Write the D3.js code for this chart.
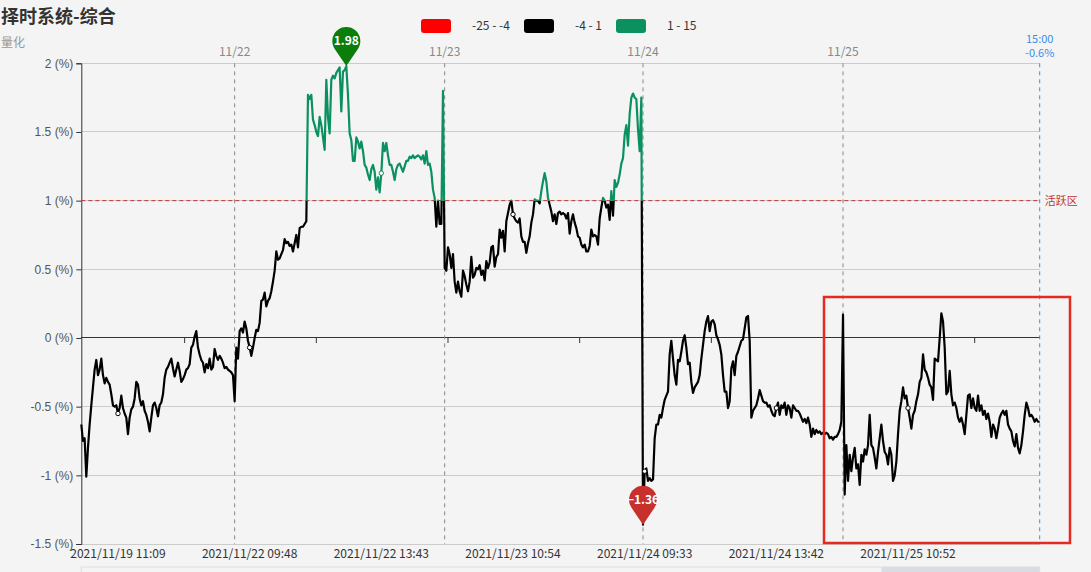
<!DOCTYPE html>
<html><head><meta charset="utf-8">
<script src="https://cdn.jsdelivr.net/npm/d3@7/dist/d3.min.js"></script>
<style>
html,body{margin:0;padding:0;background:#f4f4f4;}
svg{display:block;font-family:"Microsoft YaHei","Noto Sans CJK SC",sans-serif;}
</style></head><body>
<svg id="c" width="1091" height="572"></svg>
<script>
// ---- data (percent) ----
const day1119 = [-0.63,-0.75,-0.73,-1.01,-0.80,-0.63,-0.49,-0.36,-0.23,-0.16,-0.27,-0.23,-0.15,-0.27,-0.33,-0.29,-0.32,-0.34,-0.41,-0.49,-0.50,-0.49,-0.55,-0.51,-0.42,-0.51,-0.55,-0.58,-0.70,-0.58,-0.52,-0.50,-0.44,-0.32,-0.34,-0.44,-0.49,-0.46,-0.53,-0.56,-0.61,-0.68,-0.58,-0.49,-0.47,-0.51,-0.57,-0.49,-0.47,-0.41,-0.29,-0.23,-0.21,-0.18,-0.15,-0.22,-0.28,-0.23,-0.18,-0.24,-0.32,-0.30,-0.27,-0.23,-0.22,-0.19,-0.07,-0.05,0.01,0.05,-0.07,-0.12,-0.16,-0.18,-0.25,-0.19,-0.22,-0.15,-0.23,-0.21,-0.08,-0.13,-0.16,-0.13,-0.15,-0.18,-0.22,-0.21,-0.23,-0.24,-0.25,-0.27];
const day1122 = [-0.46,-0.07,-0.15,0.05,0.07,0.04,0.12,0.07,-0.02,-0.07,-0.13,-0.07,0.00,0.06,0.05,0.11,0.27,0.28,0.33,0.23,0.27,0.29,0.34,0.41,0.49,0.63,0.57,0.58,0.61,0.64,0.72,0.69,0.70,0.67,0.68,0.63,0.69,0.75,0.66,0.80,0.81,0.81,0.83,0.85,1.77,1.74,1.77,1.59,1.55,1.50,1.47,1.61,1.55,1.46,1.37,1.88,1.61,1.49,1.88,1.91,1.89,1.93,1.95,1.97,1.65,1.94,1.95,1.98,1.77,1.49,1.44,1.29,1.29,1.46,1.43,1.38,1.43,1.36,1.26,1.24,1.19,1.15,1.23,1.26,1.21,1.08,1.17,1.06,1.20,1.42,1.36,1.42,1.33,1.26,1.26,1.21,1.15,1.23,1.26,1.27,1.24,1.21,1.25,1.29,1.29,1.32,1.31,1.33,1.31,1.32,1.33,1.32,1.30,1.33,1.27,1.36,1.26,1.27,1.21,1.08,1.02,0.81,1.00,0.83,0.83,1.80];
const day1123 = [0.51,0.49,0.66,0.61,0.51,0.61,0.41,0.33,0.41,0.34,0.30,0.49,0.45,0.39,0.34,0.41,0.59,0.44,0.46,0.51,0.50,0.53,0.46,0.49,0.42,0.56,0.51,0.55,0.66,0.67,0.52,0.59,0.61,0.79,0.73,0.78,0.63,0.85,0.91,0.97,1.00,0.90,0.87,0.85,0.84,0.87,0.74,0.70,0.70,0.62,0.69,0.74,0.84,0.90,1.01,1.00,1.00,0.98,1.07,1.14,1.20,1.14,1.02,0.97,0.92,0.85,0.90,0.83,0.91,0.92,0.90,0.91,0.90,0.87,0.91,0.76,0.85,0.90,0.84,0.80,0.74,0.73,0.68,0.66,0.68,0.63,0.63,0.67,0.79,0.74,0.75,0.74,0.68,0.87,0.95,1.02,1.00,0.95,0.97,0.86,1.07,0.89,1.15,1.10,1.13,1.19,1.27,1.31,1.48,1.55,1.40,1.63,1.75,1.78,1.75,1.74,1.52,1.36,1.75];
const day1124 = [-1.36,-0.97,-0.95,-1.04,-1.02,-1.04,-1.03,-0.73,-0.63,-0.63,-0.56,-0.58,-0.51,-0.45,-0.42,-0.39,-0.12,-0.02,-0.15,-0.27,-0.34,-0.16,-0.17,-0.10,-0.02,0.02,-0.07,-0.19,-0.18,-0.32,-0.40,-0.36,-0.34,-0.32,-0.27,-0.15,-0.05,0.05,0.12,0.16,0.05,0.12,0.13,0.10,0.02,-0.01,-0.05,-0.12,-0.27,-0.39,-0.39,-0.51,-0.46,-0.22,-0.17,-0.27,-0.13,-0.10,-0.06,-0.02,-0.01,0.07,0.15,0.16,-0.02,-0.58,-0.53,-0.51,-0.49,-0.44,-0.38,-0.42,-0.46,-0.47,-0.47,-0.50,-0.49,-0.53,-0.56,-0.57,-0.51,-0.47,-0.56,-0.49,-0.51,-0.47,-0.56,-0.49,-0.51,-0.58,-0.49,-0.51,-0.53,-0.53,-0.55,-0.58,-0.61,-0.59,-0.62,-0.58,-0.63,-0.72,-0.66,-0.70,-0.67,-0.69,-0.68,-0.70,-0.69,-0.70,-0.69,-0.70,-0.73,-0.72,-0.74,-0.72,-0.72,-0.70,-0.67,-0.61];
const day1125 = [0.17,-1.14,-0.78,-1.04,-0.85,-0.97,-0.87,-0.80,-0.95,-0.92,-1.07,-0.85,-0.90,-0.81,-0.85,-0.78,-0.56,-0.78,-0.80,-0.87,-0.95,-0.83,-0.73,-0.63,-0.75,-0.83,-0.85,-0.92,-0.80,-0.85,-1.04,-1.00,-0.90,-0.70,-0.53,-0.46,-0.36,-0.44,-0.42,-0.51,-0.58,-0.66,-0.56,-0.53,-0.46,-0.41,-0.32,-0.29,-0.12,-0.23,-0.25,-0.29,-0.34,-0.36,-0.45,-0.15,-0.16,-0.17,0.00,0.18,0.12,-0.07,-0.41,-0.39,-0.24,-0.41,-0.49,-0.47,-0.51,-0.58,-0.61,-0.58,-0.63,-0.70,-0.56,-0.42,-0.41,-0.51,-0.44,-0.51,-0.53,-0.42,-0.53,-0.49,-0.56,-0.53,-0.59,-0.55,-0.61,-0.72,-0.63,-0.66,-0.73,-0.66,-0.58,-0.55,-0.53,-0.56,-0.53,-0.63,-0.66,-0.68,-0.75,-0.79,-0.70,-0.80,-0.84,-0.78,-0.68,-0.56,-0.47,-0.51,-0.57,-0.56,-0.58,-0.61,-0.59,-0.61,-0.61];
const dayNames = ["11/19","11/22","11/23","11/24","11/25"];
const xLabels = ["2021/11/19 11:09","2021/11/22 09:48","2021/11/22 13:43","2021/11/23 10:54","2021/11/24 09:33","2021/11/24 13:42","2021/11/25 10:52"];
const labelStart = 22, labelStep = 79, tickStart = 62;
const yTicks = [2,1.5,1,0.5,0,-0.5,-1,-1.5];
const pieces = [{min:-25,max:-4,color:"#ff0000",label:"-25 - -4"},{min:-4,max:1,color:"#000000",label:"-4 - 1"},{min:1,max:15,color:"#0b9060",label:"1 - 15"}];
const activeLine = 1, activeLabel = "活跃区";
const title = "择时系统-综合", subtitle = "量化";
const lastTime = "15:00", lastValue = "-0.6%";

const days = [day1119,day1122,day1123,day1124,day1125];
const values = days.flat();
const dayStarts = []; {let s=0; days.forEach(d=>{dayStarts.push(s); s+=d.length;});}
const N = values.length;

const svg = d3.select("#c");
const L = 81.3, R = 1039.7, T = 63.3, B = 544;
const x = d3.scaleLinear().domain([0, N-1]).range([L, R]);
const y = d3.scaleLinear().domain([-1.5, 2]).range([B, T]);

// title
svg.append("text").attr("x",1).attr("y",23).attr("font-size",18).attr("font-weight","bold").attr("fill","#333").text(title);
svg.append("text").attr("x",1).attr("y",47).attr("font-size",12).attr("fill","#999").text(subtitle);

// legend
const lg = svg.append("g");
const legX = [421, 524, 616];
pieces.forEach((p,i)=>{
  lg.append("rect").attr("x",legX[i]).attr("y",19).attr("width",30).attr("height",14).attr("rx",3).attr("fill",p.color);
  lg.append("text").attr("x",legX[i]+51).attr("y",30).attr("font-size",12).attr("fill","#333").text(p.label);
});

// grid
svg.append("g").selectAll("line").data(yTicks).join("line")
  .attr("x1",L).attr("x2",R).attr("y1",d=>y(d)).attr("y2",d=>y(d))
  .attr("stroke",d=>d===0?"#333":"#ccc").attr("stroke-width",1).attr("shape-rendering","crispEdges");

// y axis
const ya = svg.append("g").attr("transform",`translate(${L},0)`)
  .call(d3.axisLeft(y).tickValues(yTicks).tickSize(5).tickFormat(d=>d+" (%)"));
ya.select(".domain").attr("stroke","#333");
ya.selectAll(".tick line").attr("stroke","#333");
ya.selectAll("text").attr("font-size",12).attr("fill","#555").attr("font-family","inherit");

// x axis on zero
const tickIdx = d3.range(tickStart, N, labelStep);
svg.append("g").selectAll("line").data(tickIdx).join("line")
  .attr("x1",d=>x(d)).attr("x2",d=>x(d)).attr("y1",y(0)).attr("y2",y(0)+5).attr("stroke","#333");
const labIdx = xLabels.map((_,i)=>labelStart+i*labelStep);
svg.append("g").selectAll("text").data(xLabels).join("text")
  .attr("x",(d,i)=>x(labIdx[i])).attr("y",558).attr("text-anchor","middle").attr("font-size",12).attr("fill","#333").text(d=>d);

// day separators
dayStarts.slice(1).forEach((s,i)=>{
  svg.append("line").attr("x1",x(s)).attr("x2",x(s)).attr("y1",T).attr("y2",B)
    .attr("stroke","#888").attr("stroke-dasharray","4,4");
  svg.append("text").attr("x",x(s)).attr("y",56).attr("text-anchor","middle").attr("font-size",12).attr("fill","#888").text(dayNames[i+1]);
});
// end line + labels
svg.append("line").attr("x1",x(N-1)).attr("x2",x(N-1)).attr("y1",T).attr("y2",B).attr("stroke","#3a8ee6").attr("stroke-dasharray","4,4");
svg.append("text").attr("x",x(N-1)).attr("y",42.5).attr("text-anchor","middle").attr("font-size",11).attr("fill","#3a8ee6").text(lastTime);
svg.append("text").attr("x",x(N-1)).attr("y",56.5).attr("text-anchor","middle").attr("font-size",11).attr("fill","#3a8ee6").text(lastValue);

// active line
svg.append("line").attr("x1",L).attr("x2",R).attr("y1",y(activeLine)).attr("y2",y(activeLine))
  .attr("stroke","#c23531").attr("stroke-dasharray","4,3").attr("stroke-width",1);
svg.append("text").attr("x",R+5).attr("y",y(activeLine)+4).attr("font-size",11).attr("fill","#c23531").text(activeLabel);

// piecewise colored line via clips
const defs = svg.append("defs");
pieces.forEach((p,i)=>{
  defs.append("clipPath").attr("id","cp"+i).append("rect")
    .attr("x",0).attr("width",1091)
    .attr("y",p.max>=15?0:y(p.max)).attr("height",(p.min<=-25?572:y(p.min)) - (p.max>=15?0:y(p.max)));
});
const line = d3.line().x((d,i)=>x(i)).y(d=>y(d));
pieces.forEach((p,i)=>{
  svg.append("path").datum(values).attr("clip-path",`url(#cp${i})`).attr("d",line)
    .attr("fill","none").attr("stroke",p.color).attr("stroke-width",2.2).attr("stroke-linejoin","round");
});
// symbols at label points
const colorOf = v => pieces.find(p=>v>=p.min && v<p.max).color;
svg.append("g").selectAll("circle").data(labIdx).join("circle")
  .attr("cx",d=>x(d)).attr("cy",d=>y(values[d])).attr("r",2.2)
  .attr("fill","#fff").attr("stroke",d=>colorOf(values[d])).attr("stroke-width",1);

// pins for max/min
function pin(i, color){
  const cx = x(i), tip = y(values[i]), r = 14, cy = tip - 25;
  const a = Math.acos(r/25), sx = r*Math.sin(a), sy = r*Math.cos(a);
  svg.append("path").attr("d",`M${cx},${tip} L${cx-sx},${cy+sy} A${r},${r} 0 1 1 ${cx+sx},${cy+sy} Z`).attr("fill",color);
  svg.append("text").attr("x",cx).attr("y",cy+4).attr("text-anchor","middle").attr("font-size",12).attr("font-weight","bold").attr("fill","#fff").text(d3.format(".2f")(values[i]));
}
const iMax = d3.maxIndex(values), iMin = d3.minIndex(values);
pin(iMax, "#0a7d0a");
pin(iMin, "#c8302e");

// slider remnant
svg.append("rect").attr("x",L).attr("y",567).attr("width",R-L).attr("height",8).attr("fill","none").attr("stroke","#ddd");
svg.append("rect").attr("x",x(480)).attr("y",567).attr("width",R-x(480)).attr("height",8).attr("fill","#d9dde3");

// annotation box
svg.append("rect").attr("x",824).attr("y",297).attr("width",246).attr("height",246).attr("fill","none").attr("stroke","#e62a22").attr("stroke-width",2.5);
</script>
</body></html>
